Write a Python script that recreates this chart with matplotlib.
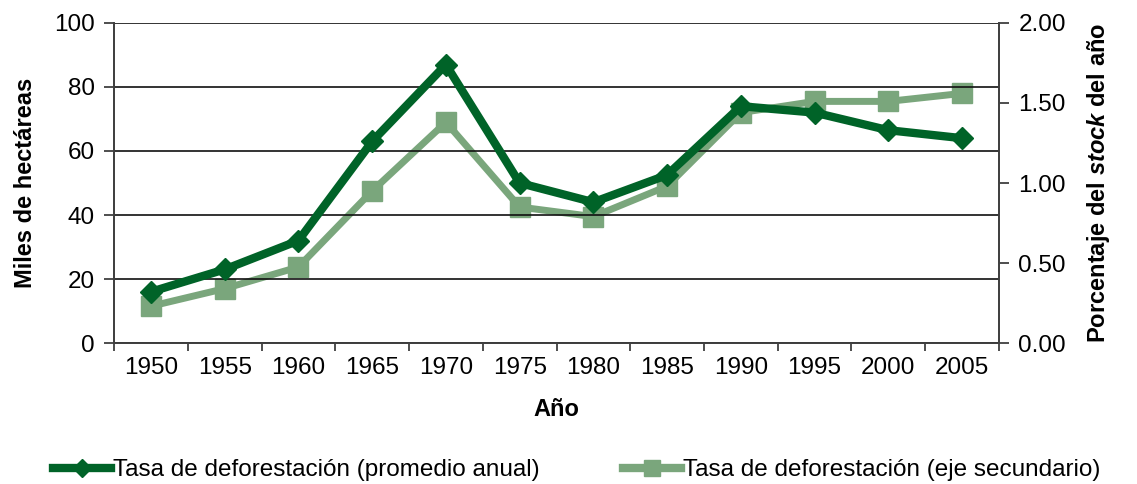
import numpy as np
import matplotlib.pyplot as plt
import matplotlib.lines as mlines

plt.rcParams['font.family'] = ['Liberation Sans', 'DejaVu Sans']
plt.rcParams['mathtext.fontset'] = 'custom'
plt.rcParams['mathtext.rm'] = 'Liberation Sans'
plt.rcParams['mathtext.bf'] = 'Liberation Sans:bold'
plt.rcParams['mathtext.it'] = 'Liberation Sans:italic'
plt.rcParams['mathtext.bfit'] = 'Liberation Sans:bold:italic'

years = ['1950', '1955', '1960', '1965', '1970', '1975',
         '1980', '1985', '1990', '1995', '2000', '2005']
annual = [16, 23, 32, 63, 87, 50, 44, 52.5, 74, 72, 66.5, 64]
pct_stock = [0.23, 0.34, 0.475, 0.95, 1.38, 0.85, 0.79, 0.98, 1.44, 1.51, 1.51, 1.56]

dark = '#006328'
light = '#7aa67c'
axc = '#404040'
fs = 17.5

fig = plt.figure(figsize=(11.37, 4.84), dpi=100)
ax = fig.add_axes([0.1003, 0.2913, 0.7783, 0.6612])
ax2 = ax.twinx()

x = np.arange(len(years))
ax.plot(x, annual, color=dark, lw=6, marker='D', ms=11, zorder=4)
ax2.plot(x, pct_stock, color=light, lw=5, marker='s', ms=14, zorder=3)

ax.set_zorder(ax2.get_zorder() + 1)
ax.patch.set_visible(False)

ax.set_xlim(-0.5, len(years) - 0.5)
ax.set_ylim(0, 100)
ax2.set_ylim(0, 2)
ax.set_yticks(np.arange(0, 101, 20))
ax2.set_yticks(np.arange(0, 2.01, 0.5))
ax2.set_yticklabels([f'{v:.2f}' for v in np.arange(0, 2.01, 0.5)])

ax.set_xticks(np.arange(-0.5, len(years), 1))
ax.set_xticklabels([])
ax.set_xticks(x, minor=True)
ax.set_xticklabels(years, minor=True)
ax.tick_params(axis='x', which='minor', length=0, pad=10, labelsize=fs)
ax.tick_params(axis='x', which='major', length=6, color=axc, width=1.3, direction='out')
ax.tick_params(axis='y', length=7, color=axc, width=1.3, labelsize=fs, pad=7)
ax2.tick_params(axis='y', length=7, color=axc, width=1.3, labelsize=fs, pad=7)

ax.grid(axis='y', color='#111111', lw=1.2)
ax.set_axisbelow(True)
for a in (ax, ax2):
    for s in a.spines.values():
        s.set_color(axc)
        s.set_linewidth(1.3)
    a.spines['top'].set_visible(False)

ax.set_xlabel('Año', fontsize=17, fontweight='bold', labelpad=14)
ax.set_ylabel('Miles de hectáreas', fontsize=17, fontweight='bold', labelpad=12)
ax2.set_ylabel(r'Porcentaje del $\mathbfit{stock}$ del año', fontsize=17,
               fontweight='bold', labelpad=14)

h1 = mlines.Line2D([], [], color=dark, lw=6, marker='D', ms=9)
h2 = mlines.Line2D([], [], color=light, lw=6, marker='s', ms=11)
fig.legend([h1, h2], ['Tasa de deforestación (promedio anual)',
                      'Tasa de deforestación (eje secundario)'],
           loc='lower center', bbox_to_anchor=(0.507, -0.04), ncol=2, frameon=False,
           fontsize=fs, handlelength=2.4, handletextpad=0.05, columnspacing=3.45)

fig.savefig('out.png', dpi=100)
